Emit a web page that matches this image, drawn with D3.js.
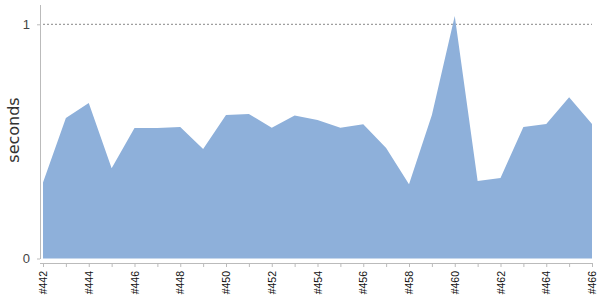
<!DOCTYPE html>
<html>
<head>
<meta charset="utf-8">
<script src="https://cdn.jsdelivr.net/npm/d3@7"></script>
<style>
  body { margin: 0; background: #fff; }
  svg { display: block; font-family: "DejaVu Sans", Verdana, sans-serif; }
</style>
</head>
<body>
<script>
// build numbers and durations (seconds)
var builds = [442, 443, 444, 445, 446, 447, 448, 449, 450, 451, 452, 453, 454,
    455, 456, 457, 458, 459, 460, 461, 462, 463, 464, 465, 466];
var durations = [0.324, 0.60, 0.664, 0.385, 0.557, 0.557, 0.561, 0.468, 0.613, 0.617,
    0.558, 0.611, 0.591, 0.558, 0.573, 0.472, 0.317, 0.613, 1.035, 0.331,
    0.344, 0.561, 0.574, 0.688, 0.574];
var yTicks = [0, 1];
var yLabel = "seconds";

function drawChart() {
    var width = 600, height = 300;
    var svg = d3.select("body")
        .append("svg")
        .attr("width", width)
        .attr("height", height);

    var data = builds.map(function(b, i) { return {build: b, value: durations[i]}; });

    var x = d3.scaleLinear()
        .domain(d3.extent(builds))
        .range([43, 592]);

    var y = d3.scaleLinear()
        .domain([0, 1])
        .range([258.5, 24.3]);

    // reference line at 1 second
    svg.append("line")
        .attr("x1", 43)
        .attr("x2", 592)
        .attr("y1", y(1))
        .attr("y2", y(1))
        .attr("stroke", "#888")
        .attr("stroke-width", 1)
        .attr("stroke-dasharray", "2,2");

    var area = d3.area()
        .x(function(d) { return x(d.build); })
        .y0(y(0))
        .y1(function(d) { return y(d.value); });

    svg.append("path")
        .datum(data)
        .attr("fill", "#8eb0da")
        .attr("d", area);

    // y axis
    var yAxis = svg.append("g")
        .attr("transform", "translate(40,0)")
        .call(d3.axisLeft(y).tickValues(yTicks).tickFormat(d3.format("d"))
            .tickSize(3).tickPadding(7));
    yAxis.select(".domain").remove();
    yAxis.append("line")
        .attr("x1", 0.5).attr("x2", 0.5)
        .attr("y1", 5).attr("y2", 259)
        .attr("stroke", "#bbb");
    yAxis.selectAll(".tick line").attr("stroke", "#bbb");
    yAxis.selectAll(".tick text")
        .attr("fill", "#444")
        .style("font-size", "13px");

    // x axis
    var xAxis = svg.append("g")
        .attr("transform", "translate(0,263)")
        .call(d3.axisBottom(x)
            .tickValues(builds)
            .tickSize(4)
            .tickFormat(function(d) { return d % 2 === 0 ? "#" + d : ""; }));
    xAxis.select(".domain")
        .attr("stroke", "#bbb")
        .attr("d", "M40,0.5H592");
    xAxis.selectAll(".tick line").attr("stroke", "#bbb");
    xAxis.selectAll(".tick text")
        .attr("fill", "#111")
        .style("font-size", "10.5px")
        .attr("text-anchor", "end")
        .attr("transform", "rotate(-90)")
        .attr("x", -8)
        .attr("y", 0)
        .attr("dy", "0.35em");

    svg.append("text")
        .attr("transform", "translate(19,130) rotate(-90)")
        .attr("text-anchor", "middle")
        .attr("fill", "#333")
        .style("font-size", "16px")
        .text(yLabel);
}

drawChart();
</script>
</body>
</html>
